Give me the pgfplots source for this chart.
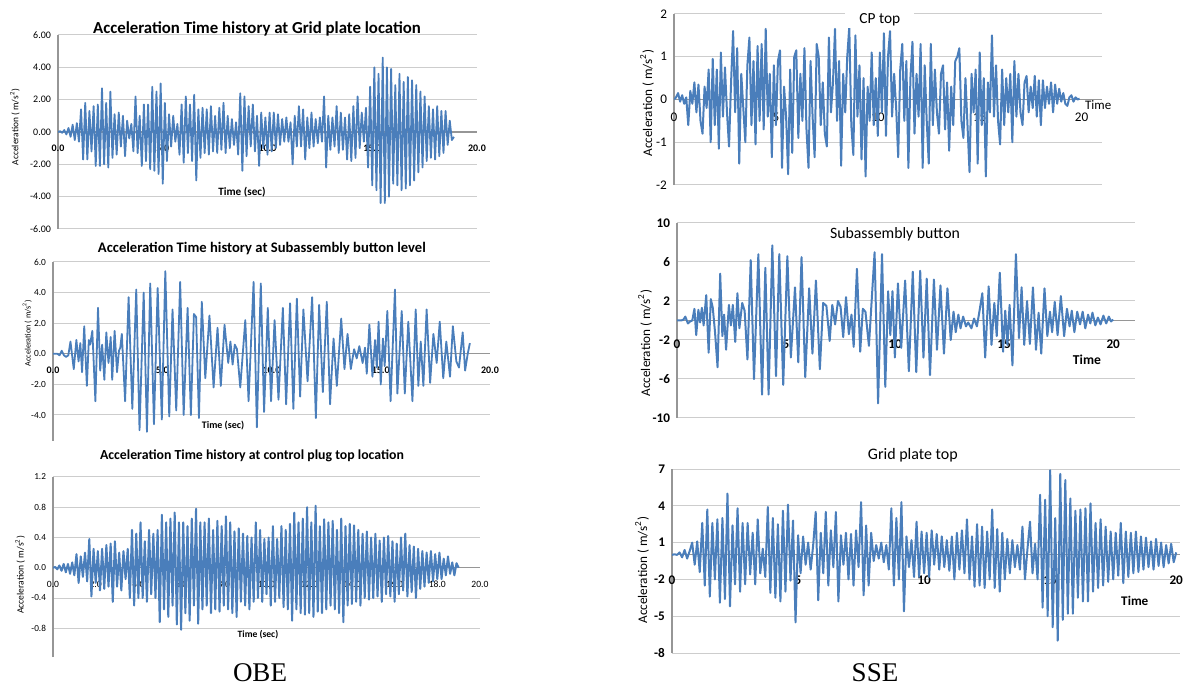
\documentclass[border=0pt]{standalone}
\usepackage{fontspec}
\setmainfont{Carlito}
\newfontfamily\capfont{Liberation Serif}
\usepackage{pgfplots}
\pgfplotsset{compat=1.18}

\definecolor{sig}{RGB}{74,126,187}
\definecolor{gridc}{RGB}{205,205,205}
\definecolor{axc}{RGB}{150,150,150}

\newcommand\fs[1]{\fontsize{#1}{#1}\selectfont}

\pgfplotsset{
  acc/.style={
    scale only axis,
    axis x line=middle, axis y line=left,
    axis line style={axc, line width=0.6pt, -},
    ymajorgrids, grid style={gridc, line width=0.5pt},
    major tick length=0pt,
    hide obscured x ticks=false, hide obscured y ticks=false,
    /pgf/number format/assume math mode=true,
  },
  sigline/.style={sig, line width=#1, mark=none, line join=round},
  xlab/.style 2 args={every axis x label/.style={at={(axis description cs:#1,#2)}, anchor=center}},
  ylab/.style 2 args={every axis y label/.style={at={(axis description cs:#1,#2)}, anchor=center, rotate=90}},
  tpos/.style 2 args={every axis title/.style={at={(axis description cs:#1,#2)}, anchor=center}},
}

\begin{document}
\begin{tikzpicture}
\useasboundingbox (0,0) rectangle (591.5pt,343pt);

% ---------------- OBE: grid plate ----------------
\begin{axis}[acc, at={(29pt,228.5pt)}, anchor=south west,
  width=209.5pt, height=97pt, xmin=0, xmax=20, ymin=-6, ymax=6,
  xtick={0,5,...,20}, ytick={-6,-4,...,6},
  xticklabel style={font=\fs{5}\bfseries, yshift=-3pt, /pgf/number format/.cd, fixed, fixed zerofill, precision=1},
  yticklabel style={font=\fs{5}, /pgf/number format/.cd, fixed, fixed zerofill, precision=2},
  title={Acceleration Time history at Grid plate location}, tpos={0.475}{1.031},
  title style={font=\fs{8.4}\bfseries},
  xlabel={Time (sec)}, xlab={0.439}{0.191}, xlabel style={font=\fs{5.6}\bfseries},
  ylabel={Acceleration ( m/s\textsuperscript{2})}, ylab={-0.103}{0.526}, ylabel style={font=\fs{4.7}},
]
\addplot[sigline=0.9pt] coordinates {
(0.0,0) (0.1,0.05) (0.2,-0.05) (0.3,0.12) (0.4,-0.15) (0.5,0.25) (0.6,-0.3) (0.7,0.45) (0.8,-0.5) (0.9,0.55)
(1.0,-0.6) (1.1,1.4) (1.2,-1.7) (1.3,1.8) (1.4,-1.7) (1.5,1.3) (1.6,-1.2) (1.7,1.6) (1.8,-2.1) (1.9,1.7)
(2.0,-2.1) (2.1,2.7) (2.2,-2.0) (2.3,1.8) (2.4,-2.2) (2.5,2.5) (2.6,-1.6) (2.7,1.1) (2.8,-1.4) (2.9,1.2)
(3.0,-0.9) (3.1,1.0) (3.2,-1.5) (3.3,0.7) (3.4,-0.4) (3.5,0.5) (3.6,-1.2) (3.7,2.2) (3.8,-1.3) (3.9,1.0)
(4.0,-2.1) (4.1,1.7) (4.2,-1.8) (4.3,1.7) (4.4,-2.3) (4.5,2.8) (4.6,-2.4) (4.7,2.5) (4.8,-2.6) (4.9,3.0)
(5.0,-3.2) (5.1,1.8) (5.2,-1.8) (5.3,1.1) (5.4,-0.9) (5.5,1.0) (5.6,-0.6) (5.7,0.5) (5.8,-1.4) (5.9,1.7)
(6.0,-1.9) (6.1,2.2) (6.2,-1.3) (6.3,1.7) (6.4,-1.8) (6.5,2.3) (6.6,-3.0) (6.7,1.4) (6.8,-1.6) (6.9,1.5)
(7.0,-1.3) (7.1,1.4) (7.2,-1.4) (7.3,1.6) (7.4,-1.2) (7.5,1.0) (7.6,-1.3) (7.7,1.5) (7.8,-1.1) (7.9,1.8)
(8.0,-1.3) (8.1,1.0) (8.2,-1.0) (8.3,0.8) (8.4,-0.8) (8.5,0.6) (8.6,-1.4) (8.7,2.4) (8.8,-2.4) (8.9,2.2)
(9.0,-1.5) (9.1,1.6) (9.2,-0.9) (9.3,1.7) (9.4,-1.2) (9.5,1.0) (9.6,-2.1) (9.7,1.2) (9.8,-1.0) (9.9,0.9)
(10.0,-1.4) (10.1,1.2) (10.2,-1.2) (10.3,1.2) (10.4,-1.0) (10.5,1.1) (10.6,-0.8) (10.7,0.8) (10.8,-0.6) (10.9,0.9)
(11.0,-0.6) (11.1,0.6) (11.2,-2.0) (11.3,1.0) (11.4,-0.9) (11.5,1.6) (11.6,-0.9) (11.7,1.4) (11.8,-1.7) (11.9,0.9)
(12.0,-1.0) (12.1,1.2) (12.2,-0.9) (12.3,0.8) (12.4,-0.7) (12.5,0.9) (12.6,-0.6) (12.7,2.2) (12.8,-2.2) (12.9,1.0)
(13.0,-1.1) (13.1,0.9) (13.2,-0.9) (13.3,1.6) (13.4,-1.3) (13.5,1.2) (13.6,-1.1) (13.7,0.9) (13.8,-1.7) (13.9,1.1)
(14.0,-1.8) (14.1,1.6) (14.2,-1.6) (14.3,2.2) (14.4,-1.0) (14.5,1.2) (14.6,-0.6) (14.7,1.5) (14.8,-2.2) (14.9,2.8)
(15.0,-3.3) (15.1,4.0) (15.2,-3.6) (15.3,3.6) (15.4,-4.4) (15.5,4.6) (15.6,-4.4) (15.7,4.0) (15.8,-4.0) (15.9,3.9)
(16.0,-3.2) (16.1,2.9) (16.2,-3.3) (16.3,3.6) (16.4,-3.6) (16.5,3.1) (16.6,-3.5) (16.7,3.4) (16.8,-3.3) (16.9,3.2)
(17.0,-3.0) (17.1,2.9) (17.2,-2.5) (17.3,2.5) (17.4,-2.2) (17.5,2.2) (17.6,-1.8) (17.7,1.6) (17.8,-1.6) (17.9,1.4)
(18.0,-1.7) (18.1,1.6) (18.2,-1.5) (18.3,1.3) (18.4,-1.3) (18.5,1.3) (18.6,-0.8) (18.7,0.7) (18.8,-0.5) (18.9,-0.3)
};
\end{axis}

% ---------------- OBE: subassembly button ----------------
\begin{axis}[acc, at={(26.5pt,122.5pt)}, anchor=south west,
  width=218.5pt, height=89.5pt, xmin=0, xmax=20, ymin=-5.7, ymax=6,
  xtick={0,5,...,20}, ytick={-4,-2,...,6},
  xticklabel style={font=\fs{5}\bfseries, yshift=-3pt, /pgf/number format/.cd, fixed, fixed zerofill, precision=1},
  yticklabel style={font=\fs{4.7}, /pgf/number format/.cd, fixed, fixed zerofill, precision=1},
  title={Acceleration Time history at Subassembly button level}, tpos={0.478}{1.073},
  title style={font=\fs{7.3}\bfseries},
  xlabel={Time (sec)}, xlab={0.389}{0.084}, xlabel style={font=\fs{5}\bfseries},
  ylabel={Acceleration ( m/s\textsuperscript{2})}, ylab={-0.059}{0.603}, ylabel style={font=\fs{4.1}},
]
\addplot[sigline=0.9pt] coordinates {
(0,0) (0.2,0.0) (0.3,-0.1) (0.4,0.2) (0.5,-0.1) (0.6,-0.2) (0.7,-0.1) (0.8,0.8) (0.95,-1.0) (1.07,0.9)
(1.17,-0.5) (1.25,0.7) (1.33,-1.2) (1.43,1.8) (1.55,-2.1) (1.64,0.9) (1.7,0.6) (1.8,1.5) (1.94,-3.1) (2.06,3.0)
(2.16,-1.1) (2.25,0.6) (2.35,-1.7) (2.44,1.4) (2.54,-0.6) (2.64,1.1) (2.71,-1.7) (2.82,1.5) (2.93,-1.2) (3.02,0.2)
(3.08,0.4) (3.15,1.3) (3.3,-3.1) (3.46,3.7) (3.63,-3.6) (3.81,4.2) (3.96,-5.0) (4.15,4.0) (4.3,-5.1) (4.45,4.6)
(4.62,-4.6) (4.79,4.3) (4.98,-4.3) (5.14,5.4) (5.32,-4.1) (5.47,2.9) (5.64,-3.7) (5.82,4.7) (5.98,-4.0) (6.16,3.0)
(6.31,-4.0) (6.45,2.6) (6.55,2.4) (6.68,-4.2) (6.81,3.4) (6.97,-1.6) (7.16,2.5) (7.35,-2.2) (7.53,1.7) (7.68,-2.1)
(7.85,1.9) (8.02,-0.6) (8.12,0.8) (8.22,-0.7) (8.32,0.6) (8.42,0.3) (8.57,-2.2) (8.8,2.2) (8.95,-3.1) (9.18,4.7)
(9.33,-4.8) (9.51,4.6) (9.66,-3.8) (9.83,3.0) (9.98,-3.1) (10.14,2.2) (10.32,-3.0) (10.52,3.0) (10.67,-3.3) (10.85,3.3)
(11.0,-3.6) (11.16,3.6) (11.31,-2.8) (11.46,2.9) (11.65,-1.8) (11.86,3.7) (12.03,-4.2) (12.18,3.2) (12.35,-2.5) (12.53,3.4)
(12.68,-3.3) (12.84,1.0) (12.99,-2.1) (13.19,2.3) (13.34,-1.0) (13.48,1.3) (13.63,-1.0) (13.78,0.3) (13.9,-0.3) (14.02,0.5)
(14.17,-0.6) (14.28,0.4) (14.36,-1.3) (14.48,1.9) (14.62,-1.5) (14.74,0.9) (14.82,-0.9) (14.9,2.1) (15.0,-2.0) (15.1,1.0)
(15.18,-0.8) (15.3,2.8) (15.45,-3.1) (15.65,4.2) (15.76,-2.6) (15.96,2.8) (16.1,-2.6) (16.26,2.1) (16.45,-3.1) (16.6,2.9)
(16.72,-2.1) (16.83,0.8) (16.95,-2.1) (17.1,2.9) (17.26,-1.9) (17.41,1.3) (17.56,-0.6) (17.7,2.1) (17.86,-1.6) (18.0,0.8)
(18.17,-1.5) (18.3,1.8) (18.46,-0.5) (18.58,-0.9) (18.75,1.4) (18.86,-1.1) (18.98,0.0) (19.08,0.7)
};
\end{axis}

% ---------------- OBE: control plug top ----------------
\begin{axis}[acc, at={(26.5pt,14.5pt)}, anchor=south west,
  width=213.5pt, height=90pt, xmin=0, xmax=20, ymin=-1.18, ymax=1.2,
  xtick={0,2,...,20}, ytick={-0.8,-0.4,0,0.4,0.8,1.2},
  xticklabel style={font=\fs{4.8}, yshift=-3pt, /pgf/number format/.cd, fixed, fixed zerofill, precision=1},
  yticklabel style={font=\fs{4.6}, /pgf/number format/.cd, fixed, fixed zerofill, precision=1},
  title={Acceleration Time history at control plug top location}, tpos={0.466}{1.117},
  title style={font=\fs{6.9}\bfseries},
  xlabel={Time (sec)}, xlab={0.48}{0.122}, xlabel style={font=\fs{4.8}\bfseries},
  ylabel={Acceleration ( m/s\textsuperscript{2})}, ylab={-0.077}{0.456}, ylabel style={font=\fs{4.8}},
]
\addplot[sigline=1pt] coordinates {
(0.0,0) (0.1,0.01) (0.2,-0.02) (0.3,0.03) (0.4,-0.04) (0.5,0.05) (0.6,-0.06) (0.7,0.05) (0.8,-0.08) (0.9,0.07)
(1.0,-0.10) (1.1,0.18) (1.2,-0.20) (1.3,0.15) (1.4,-0.12) (1.5,0.20) (1.6,-0.18) (1.7,0.38) (1.8,-0.38) (1.9,0.25)
(2.0,-0.20) (2.1,0.22) (2.2,-0.30) (2.3,0.25) (2.4,-0.28) (2.5,0.30) (2.6,-0.25) (2.7,0.32) (2.8,-0.45) (2.9,0.35)
(3.0,-0.25) (3.1,0.20) (3.2,-0.30) (3.3,0.22) (3.4,-0.15) (3.5,0.25) (3.6,-0.40) (3.7,0.50) (3.8,-0.50) (3.9,0.45)
(4.0,-0.40) (4.1,0.60) (4.2,-0.40) (4.3,0.35) (4.4,-0.45) (4.5,0.50) (4.6,-0.35) (4.7,0.45) (4.8,-0.40) (4.9,0.50)
(5.0,-0.72) (5.1,0.70) (5.2,-0.55) (5.3,0.60) (5.4,-0.65) (5.5,0.65) (5.6,-0.50) (5.7,0.73) (5.8,-0.75) (5.9,0.60)
(6.0,-0.82) (6.1,0.60) (6.2,-0.60) (6.3,0.55) (6.4,-0.70) (6.5,0.65) (6.6,-0.50) (6.7,0.78) (6.8,-0.74) (6.9,0.60)
(7.0,-0.55) (7.1,0.60) (7.2,-0.50) (7.3,0.65) (7.4,-0.60) (7.5,0.50) (7.6,-0.55) (7.7,0.62) (7.8,-0.58) (7.9,0.55)
(8.0,-0.50) (8.1,0.68) (8.2,-0.55) (8.3,0.60) (8.4,-0.60) (8.5,0.48) (8.6,-0.65) (8.7,0.52) (8.8,-0.45) (8.9,0.45)
(9.0,-0.50) (9.1,0.42) (9.2,-0.55) (9.3,0.40) (9.4,-0.45) (9.5,0.60) (9.6,-0.40) (9.7,0.50) (9.8,-0.45) (9.9,0.38)
(10.0,-0.35) (10.1,0.40) (10.2,-0.50) (10.3,0.55) (10.4,-0.45) (10.5,0.38) (10.6,-0.40) (10.7,0.55) (10.8,-0.52) (10.9,0.50)
(11.0,-0.55) (11.1,0.58) (11.2,-0.70) (11.3,0.73) (11.4,-0.55) (11.5,0.60) (11.6,-0.60) (11.7,0.65) (11.8,-0.62) (11.9,0.80)
(12.0,-0.60) (12.1,0.60) (12.2,-0.65) (12.3,0.82) (12.4,-0.58) (12.5,0.55) (12.6,-0.60) (12.7,0.64) (12.8,-0.55) (12.9,0.60)
(13.0,-0.50) (13.1,0.62) (13.2,-0.55) (13.3,0.50) (13.4,-0.60) (13.5,0.65) (13.6,-0.72) (13.7,0.55) (13.8,-0.50) (13.9,0.58)
(14.0,-0.48) (14.1,0.56) (14.2,-0.45) (14.3,0.50) (14.4,-0.50) (14.5,0.45) (14.6,-0.40) (14.7,0.48) (14.8,-0.42) (14.9,0.40)
(15.0,-0.40) (15.1,0.45) (15.2,-0.38) (15.3,0.36) (15.4,-0.45) (15.5,0.40) (15.6,-0.35) (15.7,0.42) (15.8,-0.38) (15.9,0.35)
(16.0,-0.45) (16.1,0.32) (16.2,-0.35) (16.3,0.40) (16.4,-0.30) (16.5,0.45) (16.6,-0.38) (16.7,0.30) (16.8,-0.32) (16.9,0.28)
(17.0,-0.40) (17.1,0.25) (17.2,-0.28) (17.3,0.22) (17.4,-0.25) (17.5,0.20) (17.6,-0.20) (17.7,0.22) (17.8,-0.18) (17.9,0.18)
(18.0,-0.15) (18.1,0.20) (18.2,-0.15) (18.3,0.12) (18.4,-0.10) (18.5,0.15) (18.6,-0.08) (18.7,0.07) (18.8,-0.10) (18.9,0.06)
(19.0,0.0)
};
\end{axis}

% ---------------- SSE: CP top ----------------
\begin{axis}[acc, at={(337pt,250.5pt)}, anchor=south west,
  width=214pt, height=85.5pt, xmin=0, xmax=21, ymin=-2, ymax=2,
  xtick={0,5,...,20}, ytick={-2,-1,...,2},
  xticklabel style={font=\fs{6.6}, yshift=-3pt},
  yticklabel style={font=\fs{6.6}},
  title={CP top}, tpos={0.481}{0.965},
  title style={font=\fs{7.7}, fill=white, inner xsep=7pt, inner ysep=1pt},
  xlabel={Time}, xlab={0.991}{0.468}, xlabel style={font=\fs{6.5}},
  ylabel={Acceleration ( m/s\textsuperscript{2})}, ylab={-0.063}{0.48}, ylabel style={font=\fs{6.6}},
]
\addplot[sigline=1pt] coordinates {
(0.0,0) (0.1,0.05) (0.2,0.15) (0.3,-0.05) (0.4,0.10) (0.5,-0.10) (0.6,0.05) (0.7,-0.60) (0.8,0.20) (0.9,-0.10)
(1.0,0.40) (1.1,-0.30) (1.2,0.35) (1.3,-0.50) (1.4,-0.80) (1.5,0.30) (1.6,-0.20) (1.7,0.70) (1.8,-1.00) (1.9,0.95)
(2.0,-0.60) (2.1,0.70) (2.2,-1.15) (2.3,1.10) (2.4,-0.40) (2.5,0.75) (2.6,-0.30) (2.7,-1.10) (2.8,0.40) (2.9,1.60)
(3.0,-0.30) (3.1,1.20) (3.2,-1.50) (3.3,0.60) (3.4,-0.20) (3.5,-1.00) (3.6,0.80) (3.7,1.45) (3.8,-0.60) (3.9,0.90)
(4.0,-1.05) (4.1,1.25) (4.2,-0.50) (4.3,1.30) (4.4,-0.70) (4.5,1.65) (4.6,-0.40) (4.7,0.60) (4.8,-1.35) (4.9,0.80)
(5.0,-0.60) (5.1,0.90) (5.2,1.15) (5.3,-1.60) (5.4,0.30) (5.5,-0.40) (5.6,-1.75) (5.7,0.70) (5.8,-1.25) (5.9,1.00)
(6.0,1.15) (6.1,-0.90) (6.2,0.60) (6.3,-0.50) (6.4,1.20) (6.5,-0.70) (6.6,-1.60) (6.7,0.90) (6.8,-0.40) (6.9,-1.35)
(7.0,1.30) (7.1,1.00) (7.2,-0.60) (7.3,0.40) (7.4,-0.80) (7.5,-1.10) (7.6,1.45) (7.7,-0.30) (7.8,0.40) (7.9,1.65)
(8.0,-0.50) (8.1,0.90) (8.2,-1.55) (8.3,0.60) (8.4,-0.30) (8.5,1.00) (8.6,1.70) (8.7,-0.60) (8.8,-1.30) (8.9,1.50)
(9.0,-0.40) (9.1,0.80) (9.2,-1.40) (9.3,0.50) (9.4,-1.80) (9.5,0.30) (9.6,-0.50) (9.7,1.10) (9.8,-0.60) (9.9,0.50)
(10.0,-0.85) (10.1,1.10) (10.2,-0.30) (10.3,1.55) (10.4,-0.85) (10.5,1.00) (10.6,1.60) (10.7,-0.40) (10.8,0.60) (10.9,-0.20)
(11.0,-1.35) (11.1,0.70) (11.2,1.30) (11.3,-0.50) (11.4,0.90) (11.5,-1.60) (11.6,0.50) (11.7,1.35) (11.8,-0.80) (11.9,0.60)
(12.0,-0.40) (12.1,1.30) (12.2,-1.60) (12.3,0.80) (12.4,-0.50) (12.5,-1.50) (12.6,1.30) (12.7,-0.60) (12.8,0.70) (12.9,-0.30)
(13.0,-0.80) (13.1,0.60) (13.2,0.80) (13.3,-0.70) (13.4,0.40) (13.5,-1.20) (13.6,0.30) (13.7,-0.60) (13.8,0.90) (13.9,1.00)
(14.0,1.20) (14.1,-0.50) (14.2,-0.90) (14.3,0.50) (14.4,-0.60) (14.5,-1.70) (14.6,0.60) (14.7,-0.30) (14.8,0.70) (14.9,-1.50)
(15.0,1.10) (15.1,-0.60) (15.2,0.50) (15.3,-1.80) (15.4,0.40) (15.5,-0.30) (15.6,1.50) (15.7,-0.40) (15.8,0.80) (15.9,-0.50)
(16.0,-1.05) (16.1,0.70) (16.2,-0.60) (16.3,0.50) (16.4,-0.30) (16.5,0.60) (16.6,-1.00) (16.7,0.90) (16.8,-0.40) (16.9,0.60)
(17.0,-0.30) (17.1,-0.60) (17.2,0.40) (17.3,0.55) (17.4,-0.30) (17.5,0.30) (17.6,-0.20) (17.7,0.55) (17.8,-0.40) (17.9,0.45)
(18.0,-0.60) (18.1,0.45) (18.2,-0.20) (18.3,0.30) (18.4,-0.10) (18.5,0.40) (18.6,-0.30) (18.7,0.35) (18.8,-0.10) (18.9,0.25)
(19.0,-0.05) (19.1,0.15) (19.2,-0.10) (19.3,-0.15) (19.4,0.05) (19.5,0.10) (19.6,-0.05) (19.7,0.05) (19.8,0.00) (19.9,0.02)
};
\end{axis}

% ---------------- SSE: subassembly button ----------------
\begin{axis}[acc, at={(338.5pt,134pt)}, anchor=south west,
  width=229pt, height=97.5pt, xmin=0, xmax=21, ymin=-10, ymax=10,
  xtick={0,5,...,20}, ytick={-10,-6,-2,2,6,10},
  xticklabel style={font=\fs{6.6}\bfseries, yshift=-6pt},
  yticklabel style={font=\fs{6.6}\bfseries},
  title={Subassembly button}, tpos={0.476}{0.944},
  title style={font=\fs{7.9}},
  xlabel={Time}, xlab={0.895}{0.297}, xlabel style={font=\fs{6.8}\bfseries},
  ylabel={Acceleration ( m/s\textsuperscript{2})}, ylab={-0.07}{0.385}, ylabel style={font=\fs{6.6}},
]
\addplot[sigline=1pt] coordinates {
(0,0) (0.2,0) (0.3,0.1) (0.38,0.4) (0.5,-0.3) (0.6,-0.1) (0.7,0) (0.8,1.2) (0.88,-1.5) (0.98,1.1)
(1.06,-0.2) (1.14,1.3) (1.22,-0.5) (1.34,2.6) (1.45,-3.3) (1.55,2.2) (1.64,1.3) (1.74,-1.1) (1.86,-4.8) (1.98,4.8)
(2.08,-1.6) (2.16,0.6) (2.25,-3.0) (2.38,1.6) (2.47,-0.5) (2.56,1.6) (2.67,-2.2) (2.77,2.8) (2.86,-0.8) (2.99,1.8)
(3.1,1.0) (3.23,-4.0) (3.38,6.2) (3.53,-6.0) (3.73,6.8) (3.9,-7.6) (4.05,5.4) (4.2,-7.6) (4.37,7.7) (4.54,-5.7)
(4.69,6.8) (4.87,-6.6) (5.06,6.6) (5.22,-3.8) (5.41,3.4) (5.56,-4.3) (5.71,6.5) (5.88,-5.8) (6.06,3.3) (6.21,-3.4)
(6.37,4.1) (6.55,-5.0) (6.7,1.8) (6.85,1.5) (7.0,-2.1) (7.12,1.6) (7.25,-0.4) (7.38,2.0) (7.5,1.4) (7.62,-1.7)
(7.75,2.4) (7.88,-1.4) (8.0,0.6) (8.1,-2.7) (8.25,5.3) (8.4,-3.2) (8.52,1.2) (8.64,0.9) (8.8,-2.6) (9.06,7.0)
(9.22,-8.5) (9.4,6.8) (9.55,-6.8) (9.68,3.0) (9.78,-1.5) (9.88,3.0) (9.99,-3.8) (10.13,3.8) (10.28,-2.8) (10.46,4.1)
(10.63,-5.2) (10.81,5.0) (10.97,-5.3) (11.15,5.1) (11.3,-3.8) (11.45,4.3) (11.6,-5.6) (11.78,4.2) (11.92,-3.0) (12.08,3.6)
(12.24,-3.4) (12.4,3.3) (12.55,-2.0) (12.68,0.9) (12.78,-1.2) (12.9,0.6) (13.0,-0.8) (13.12,0.4) (13.25,-0.6) (13.35,-0.2)
(13.5,-0.8) (13.62,0.2) (13.75,-0.6) (13.85,0.7) (14.0,2.8) (14.13,-3.8) (14.29,3.5) (14.42,-2.5) (14.55,1.8) (14.66,-1.6)
(14.8,4.9) (14.95,-3.2) (15.05,1.0) (15.15,-2.5) (15.25,1.6) (15.38,-4.6) (15.54,6.8) (15.68,-1.8) (15.8,3.4) (15.92,-2.5)
(16.05,2.0) (16.18,-2.4) (16.32,3.4) (16.46,-3.0) (16.58,0.8) (16.7,-3.4) (16.85,3.3) (16.98,-1.6) (17.1,0.9) (17.2,-1.2)
(17.32,1.9) (17.45,-1.5) (17.6,2.5) (17.75,-1.6) (17.88,1.2) (18.0,-0.6) (18.1,1.0) (18.22,-1.2) (18.35,0.9) (18.48,-0.4)
(18.6,0.9) (18.72,-0.8) (18.85,0.6) (18.95,-0.3) (19.05,0.8) (19.18,-0.5) (19.3,0.3) (19.42,-0.4) (19.55,0.5) (19.68,-0.3)
(19.8,0.4) (19.9,-0.1) (20.0,0.1)
};
\end{axis}

% ---------------- SSE: grid plate top ----------------
\begin{axis}[acc, at={(336pt,16.5pt)}, anchor=south west,
  width=254pt, height=92pt, xmin=0, xmax=20.15, ymin=-8, ymax=7,
  xtick={0,5,...,20}, ytick={-8,-5,...,7},
  xticklabel style={font=\fs{6.6}\bfseries, yshift=-7pt},
  yticklabel style={font=\fs{6.6}\bfseries},
  title={Grid plate top}, tpos={0.474}{1.076},
  title style={font=\fs{8}},
  xlabel={Time}, xlab={0.911}{0.283}, xlabel style={font=\fs{6.6}\bfseries},
  ylabel={Acceleration ( m/s\textsuperscript{2})}, ylab={-0.059}{0.451}, ylabel style={font=\fs{6.6}},
]
\addplot[sigline=1pt] coordinates {
(0.0,0) (0.1,0.05) (0.2,0) (0.3,0.2) (0.4,-0.2) (0.5,0.4) (0.6,-0.3) (0.7,0.3) (0.8,1.0) (0.9,-0.8)
(1.0,1.1) (1.1,-1.4) (1.2,2.6) (1.3,-2.5) (1.4,3.7) (1.5,-3.4) (1.6,2.6) (1.7,-2.0) (1.8,2.9) (1.9,-3.9)
(2.0,3.0) (2.1,-3.6) (2.2,5.0) (2.3,-4.2) (2.4,2.4) (2.5,-2.4) (2.6,3.8) (2.7,-3.0) (2.8,2.6) (2.9,-2.4)
(3.0,2.6) (3.1,-1.6) (3.2,1.8) (3.3,-2.4) (3.4,2.9) (3.5,-1.5) (3.6,0.5) (3.7,-1.8) (3.8,3.9) (3.9,-3.1)
(4.0,3.0) (4.1,-3.5) (4.2,2.5) (4.3,-3.8) (4.4,3.6) (4.5,-3.0) (4.6,4.1) (4.7,-2.1) (4.8,2.8) (4.9,-5.5)
(5.0,1.6) (5.1,-1.5) (5.2,1.5) (5.3,-0.8) (5.4,1.0) (5.5,-1.2) (5.6,0.8) (5.7,3.5) (5.8,-3.7) (5.9,1.8)
(6.0,-1.5) (6.1,3.5) (6.2,-2.5) (6.3,2.0) (6.4,-1.0) (6.5,3.5) (6.6,-3.8) (6.7,1.6) (6.8,-0.8) (6.9,1.8)
(7.0,-2.0) (7.1,1.7) (7.2,-2.5) (7.3,2.0) (7.4,-1.0) (7.5,4.3) (7.6,-3.3) (7.7,2.4) (7.8,-2.5) (7.9,1.8)
(8.0,-0.5) (8.1,0.8) (8.2,-0.3) (8.3,1.0) (8.4,-0.6) (8.5,0.8) (8.6,-1.2) (8.7,3.8) (8.8,-2.5) (8.9,3.0)
(9.0,-2.0) (9.1,4.3) (9.2,-4.6) (9.3,1.5) (9.4,-1.0) (9.5,1.2) (9.6,-1.8) (9.7,2.7) (9.8,-1.8) (9.9,1.9)
(10.0,-1.5) (10.1,1.8) (10.2,-1.8) (10.3,2.0) (10.4,-0.8) (10.5,1.7) (10.6,-1.2) (10.7,1.5) (10.8,-1.0) (10.9,1.2)
(11.0,-1.3) (11.1,1.5) (11.2,-2.0) (11.3,1.8) (11.4,-1.2) (11.5,2.0) (11.6,-1.5) (11.7,2.9) (11.8,-2.0) (11.9,1.5)
(12.0,-2.6) (12.1,2.5) (12.2,-2.5) (12.3,2.3) (12.4,-2.7) (12.5,1.9) (12.6,-2.0) (12.7,3.7) (12.8,-2.7) (12.9,2.1)
(13.0,-3.0) (13.1,1.8) (13.2,-2.0) (13.3,1.3) (13.4,-1.5) (13.5,1.2) (13.6,-1.0) (13.7,0.8) (13.8,-1.2) (13.9,2.3)
(14.0,-2.0) (14.1,0.5) (14.2,2.7) (14.3,-1.5) (14.4,0.9) (14.5,-2.0) (14.6,4.9) (14.7,-4.3) (14.8,4.5) (14.9,-5.0)
(15.0,6.9) (15.1,-5.9) (15.2,3.0) (15.3,-7.0) (15.4,6.6) (15.5,-5.3) (15.6,6.1) (15.7,-4.8) (15.8,4.6) (15.9,-4.8)
(16.0,3.6) (16.1,-3.5) (16.2,3.7) (16.3,-3.8) (16.4,3.8) (16.5,-3.8) (16.6,4.2) (16.7,-3.0) (16.8,2.6) (16.9,-2.7)
(17.0,2.9) (17.1,-2.5) (17.2,2.3) (17.3,-2.2) (17.4,1.9) (17.5,-2.0) (17.6,1.8) (17.7,-1.7) (17.8,2.6) (17.9,-2.3)
(18.0,1.9) (18.1,-1.8) (18.2,1.8) (18.3,-1.5) (18.4,1.9) (18.5,-1.4) (18.6,1.5) (18.7,-1.2) (18.8,1.4) (18.9,-1.0)
(19.0,1.1) (19.1,-1.2) (19.2,1.3) (19.3,-0.9) (19.4,1.0) (19.5,-1.0) (19.6,0.8) (19.7,-0.7) (19.8,0.9) (19.9,-0.6)
(20.0,0.2)
};
\end{axis}

\node[font=\capfont\fs{13.5}] at (130pt,6.5pt) {OBE};
\node[font=\capfont\fs{13.5}] at (437.5pt,6.5pt) {SSE};
\end{tikzpicture}
\end{document}
